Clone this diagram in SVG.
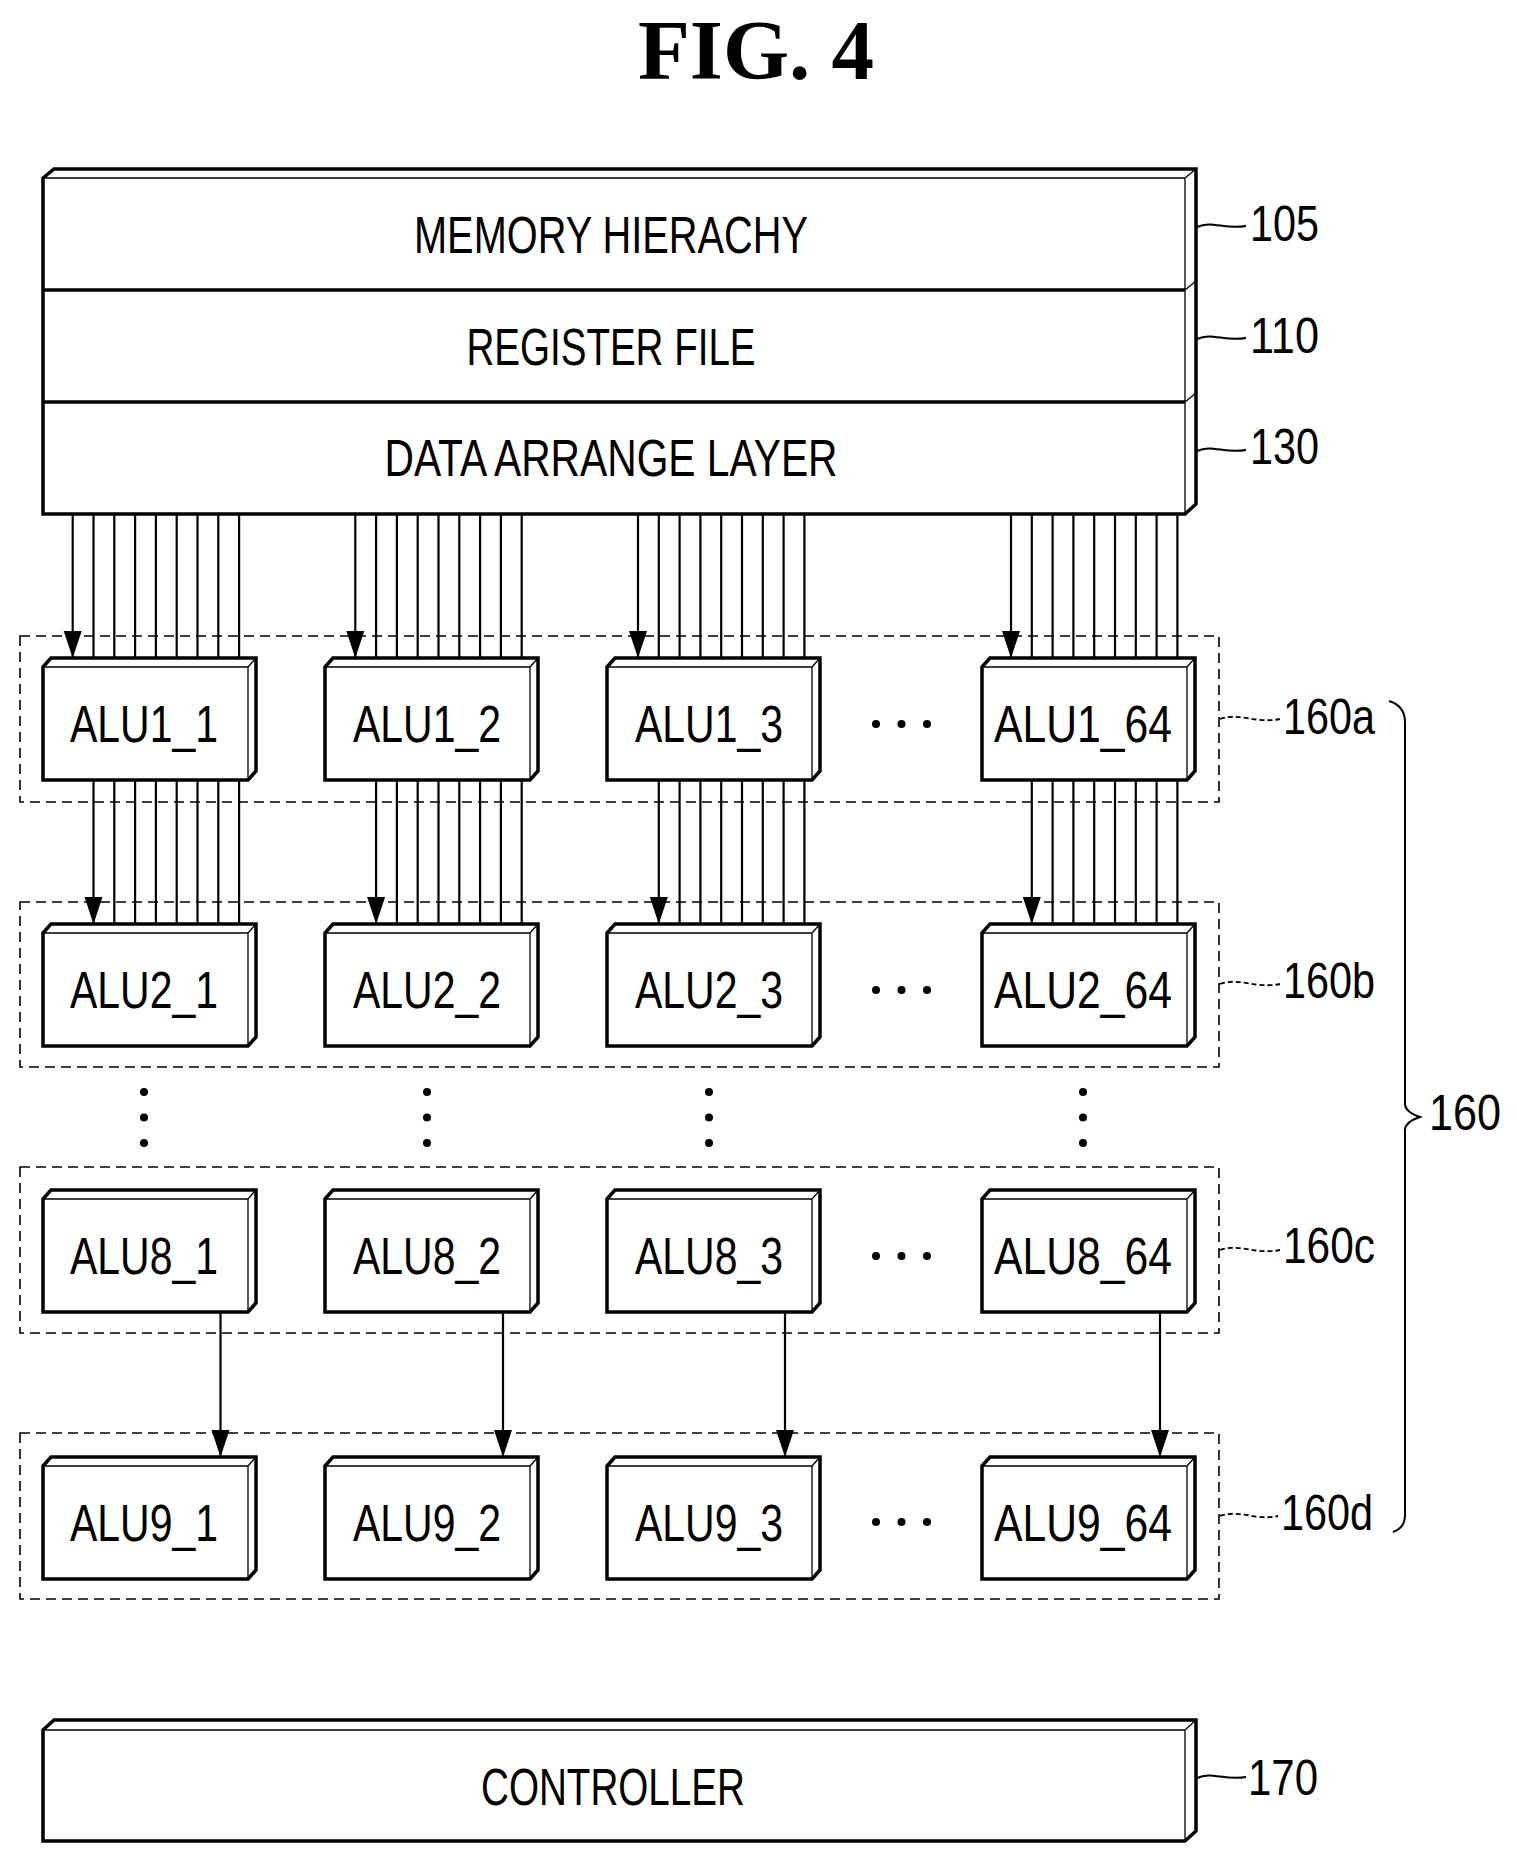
<svg xmlns="http://www.w3.org/2000/svg" xmlns:xlink="http://www.w3.org/1999/xlink" width="1517" height="1864" viewBox="0 0 1517 1864">
<style>
text{font-family:"Liberation Sans",Arial,sans-serif;fill:#000}
.lbl{font-size:51px}
.alu{font-size:51px;text-anchor:middle}
.num{font-size:50px}
.thick{fill:#fff;stroke:#000;stroke-width:3.5;stroke-linejoin:miter}
.thin{fill:none;stroke:#000;stroke-width:1.3}
.wire{fill:none;stroke:#000;stroke-width:2.2}
.dash{fill:none;stroke:#000;stroke-width:1.6;stroke-dasharray:10 6}
.lead{fill:none;stroke:#000;stroke-width:2}
.leadd{fill:none;stroke:#000;stroke-width:1.8;stroke-dasharray:5 3}
</style>
<defs>
<marker id="ah" viewBox="0 -10 28 20" refX="27" refY="0" markerWidth="28" markerHeight="20" markerUnits="userSpaceOnUse" orient="auto">
<path d="M0,-9 L27,0 L0,9 Z" fill="#000"/>
</marker>
<g id="box">
<path class="thick" d="M0,0 L8,-9 L213,-9 L213,104 L205,113 L0,113 Z"/>
<path class="thin" d="M0,0 H205 V113 M205,0 L213,-9"/>
</g>
</defs>
<rect width="1517" height="1864" fill="#fff"/>
<text x="756" y="79" font-weight="bold" font-size="85" text-anchor="middle" style="font-family:'Liberation Serif',serif">FIG. 4</text>
<g id="top-stack">
<path class="thick" d="M43,178 L54,169 L1196,169 L1196,504 L1185,514 L43,514 Z"/>
<path class="thin" d="M43,178 H1185 V514 M1185,178 L1196,169 M1185,290 L1196,281 M1185,402 L1196,393"/>
<path fill="none" stroke="#000" stroke-width="3.5" d="M43,290 H1185 M43,402 H1185"/>
</g>
<g id="n105"><text class="lbl" x="611" y="253" text-anchor="middle" textLength="394" lengthAdjust="spacingAndGlyphs">MEMORY HIERACHY</text></g>
<g id="n110"><text class="lbl" x="611" y="365" text-anchor="middle" textLength="289" lengthAdjust="spacingAndGlyphs">REGISTER FILE</text></g>
<g id="n130"><text class="lbl" x="611" y="476" text-anchor="middle" textLength="453" lengthAdjust="spacingAndGlyphs">DATA ARRANGE LAYER</text></g>
<g id="groups">
<rect class="dash" x="20" y="636" width="1199" height="166"/>
<rect class="dash" x="20" y="902" width="1199" height="165"/>
<rect class="dash" x="20" y="1167" width="1199" height="166"/>
<rect class="dash" x="20" y="1433" width="1199" height="166"/>
</g>
<g id="row1">
<g id="alu1_1"><use xlink:href="#box" x="43" y="667"/><text class="alu" x="144" y="742" textLength="148" lengthAdjust="spacingAndGlyphs">ALU1_1</text></g>
<g id="alu1_2"><use xlink:href="#box" x="325" y="667"/><text class="alu" x="427" y="742" textLength="148" lengthAdjust="spacingAndGlyphs">ALU1_2</text></g>
<g id="alu1_3"><use xlink:href="#box" x="607" y="667"/><text class="alu" x="709" y="742" textLength="148" lengthAdjust="spacingAndGlyphs">ALU1_3</text></g>
<g id="alu1_64"><use xlink:href="#box" x="982" y="667"/><text class="alu" x="1083" y="742" textLength="178" lengthAdjust="spacingAndGlyphs">ALU1_64</text></g>
</g>
<g id="row2">
<g id="alu2_1"><use xlink:href="#box" x="43" y="933"/><text class="alu" x="144" y="1008" textLength="148" lengthAdjust="spacingAndGlyphs">ALU2_1</text></g>
<g id="alu2_2"><use xlink:href="#box" x="325" y="933"/><text class="alu" x="427" y="1008" textLength="148" lengthAdjust="spacingAndGlyphs">ALU2_2</text></g>
<g id="alu2_3"><use xlink:href="#box" x="607" y="933"/><text class="alu" x="709" y="1008" textLength="148" lengthAdjust="spacingAndGlyphs">ALU2_3</text></g>
<g id="alu2_64"><use xlink:href="#box" x="982" y="933"/><text class="alu" x="1083" y="1008" textLength="178" lengthAdjust="spacingAndGlyphs">ALU2_64</text></g>
</g>
<g id="row8">
<g id="alu8_1"><use xlink:href="#box" x="43" y="1199"/><text class="alu" x="144" y="1274" textLength="148" lengthAdjust="spacingAndGlyphs">ALU8_1</text></g>
<g id="alu8_2"><use xlink:href="#box" x="325" y="1199"/><text class="alu" x="427" y="1274" textLength="148" lengthAdjust="spacingAndGlyphs">ALU8_2</text></g>
<g id="alu8_3"><use xlink:href="#box" x="607" y="1199"/><text class="alu" x="709" y="1274" textLength="148" lengthAdjust="spacingAndGlyphs">ALU8_3</text></g>
<g id="alu8_64"><use xlink:href="#box" x="982" y="1199"/><text class="alu" x="1083" y="1274" textLength="178" lengthAdjust="spacingAndGlyphs">ALU8_64</text></g>
</g>
<g id="row9">
<g id="alu9_1"><use xlink:href="#box" x="43" y="1466"/><text class="alu" x="144" y="1541" textLength="148" lengthAdjust="spacingAndGlyphs">ALU9_1</text></g>
<g id="alu9_2"><use xlink:href="#box" x="325" y="1466"/><text class="alu" x="427" y="1541" textLength="148" lengthAdjust="spacingAndGlyphs">ALU9_2</text></g>
<g id="alu9_3"><use xlink:href="#box" x="607" y="1466"/><text class="alu" x="709" y="1541" textLength="148" lengthAdjust="spacingAndGlyphs">ALU9_3</text></g>
<g id="alu9_64"><use xlink:href="#box" x="982" y="1466"/><text class="alu" x="1083" y="1541" textLength="178" lengthAdjust="spacingAndGlyphs">ALU9_64</text></g>
</g>
<g id="ellipses" fill="#000">
<circle cx="876" cy="724" r="4"/><circle cx="901.5" cy="724" r="4"/><circle cx="927" cy="724" r="4"/>
<circle cx="876" cy="990" r="4"/><circle cx="901.5" cy="990" r="4"/><circle cx="927" cy="990" r="4"/>
<circle cx="876" cy="1256" r="4"/><circle cx="901.5" cy="1256" r="4"/><circle cx="927" cy="1256" r="4"/>
<circle cx="876" cy="1522" r="4"/><circle cx="901.5" cy="1522" r="4"/><circle cx="927" cy="1522" r="4"/>
<circle cx="144" cy="1092" r="4"/><circle cx="144" cy="1117.5" r="4"/><circle cx="144" cy="1143" r="4"/>
<circle cx="427" cy="1092" r="4"/><circle cx="427" cy="1117.5" r="4"/><circle cx="427" cy="1143" r="4"/>
<circle cx="709" cy="1092" r="4"/><circle cx="709" cy="1117.5" r="4"/><circle cx="709" cy="1143" r="4"/>
<circle cx="1083" cy="1092" r="4"/><circle cx="1083" cy="1117.5" r="4"/><circle cx="1083" cy="1143" r="4"/>
</g>
<g id="n170">
<path class="thick" d="M43,1730 L54,1720 L1196,1720 L1196,1831 L1185,1841 L43,1841 Z"/>
<path class="thin" d="M43,1730 H1185 V1841 M1185,1730 L1196,1720"/>
<text class="lbl" x="613" y="1805" text-anchor="middle" textLength="264" lengthAdjust="spacingAndGlyphs">CONTROLLER</text>
</g>
<g id="connectors">
<path class="wire" d="M93.5,514V658M114.3,514V658M135.1,514V658M155.9,514V658M176.7,514V658M197.5,514V658M218.3,514V658M239.1,514V658 M376.1,514V658M396.9,514V658M417.7,514V658M438.5,514V658M459.3,514V658M480.1,514V658M500.9,514V658M521.7,514V658 M658.8,514V658M679.6,514V658M700.4,514V658M721.2,514V658M742,514V658M762.8,514V658M783.6,514V658M804.4,514V658 M1031.8,514V658M1052.6,514V658M1073.4,514V658M1094.2,514V658M1115,514V658M1135.8,514V658M1156.6,514V658M1177.4,514V658 M114.3,780V924M135.1,780V924M155.9,780V924M176.7,780V924M197.5,780V924M218.3,780V924M239.1,780V924 M396.9,780V924M417.7,780V924M438.5,780V924M459.3,780V924M480.1,780V924M500.9,780V924M521.7,780V924 M679.6,780V924M700.4,780V924M721.2,780V924M742,780V924M762.8,780V924M783.6,780V924M804.4,780V924 M1052.6,780V924M1073.4,780V924M1094.2,780V924M1115,780V924M1135.8,780V924M1156.6,780V924M1177.4,780V924"/>
<g class="wire" marker-end="url(#ah)">
<path d="M72.7,514V658"/><path d="M355.3,514V658"/><path d="M638,514V658"/><path d="M1011,514V658"/>
<path d="M93.5,780V924"/><path d="M376.1,780V924"/><path d="M658.8,780V924"/><path d="M1031.8,780V924"/>
<path d="M220.5,1312V1457"/><path d="M503,1312V1457"/><path d="M785,1312V1457"/><path d="M1160,1312V1457"/>
</g>
</g>
<g id="labels">
<path class="lead" d="M1197,227 C1212,220 1224,230 1246,226"/>
<text class="num" x="1250" y="241" textLength="69" lengthAdjust="spacingAndGlyphs">105</text>
<path class="lead" d="M1197,339 C1212,332 1224,342 1246,338"/>
<text class="num" x="1250" y="353" textLength="69" lengthAdjust="spacingAndGlyphs">110</text>
<path class="lead" d="M1197,451 C1212,444 1224,454 1246,450"/>
<text class="num" x="1250" y="464" textLength="69" lengthAdjust="spacingAndGlyphs">130</text>
<path class="leadd" d="M1220,719 C1240,712 1255,724 1280,719"/>
<text class="num" x="1283" y="734" textLength="92" lengthAdjust="spacingAndGlyphs">160a</text>
<path class="leadd" d="M1220,984 C1240,977 1255,989 1280,984"/>
<text class="num" x="1283" y="998" textLength="92" lengthAdjust="spacingAndGlyphs">160b</text>
<path class="leadd" d="M1220,1250 C1240,1243 1255,1255 1280,1250"/>
<text class="num" x="1283" y="1263" textLength="92" lengthAdjust="spacingAndGlyphs">160c</text>
<path class="leadd" d="M1220,1516 C1240,1509 1255,1521 1278,1516"/>
<text class="num" x="1281" y="1530" textLength="92" lengthAdjust="spacingAndGlyphs">160d</text>
<path class="lead" d="M1197,1778 C1212,1771 1224,1781 1246,1777"/>
<text class="num" x="1248" y="1795" textLength="70" lengthAdjust="spacingAndGlyphs">170</text>
<path class="lead" d="M1389,701 Q1405,706 1405,722 V1104 Q1405,1112 1420,1117 Q1405,1122 1405,1130 V1515 Q1405,1528 1393,1532"/>
<text class="num" x="1429" y="1130" textLength="72" lengthAdjust="spacingAndGlyphs">160</text>
</g>
</svg>
